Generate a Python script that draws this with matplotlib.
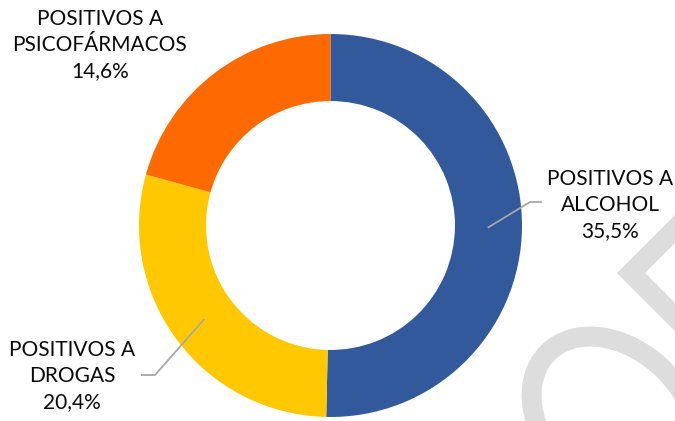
import numpy as np
import matplotlib
matplotlib.use("Agg")
import matplotlib.pyplot as plt
from matplotlib.patches import Ellipse

# Resultados positivos por tipo de sustancia (%)
categories = ["POSITIVOS A\nALCOHOL", "POSITIVOS A\nDROGAS", "POSITIVOS A\nPSICOFÁRMACOS"]
values = [35.5, 20.4, 14.6]
colors = ["#31599C", "#FFC800", "#FF6A00"]

W, H = 675, 421
fig = plt.figure(figsize=(W / 100, H / 100), dpi=100)
ax = fig.add_axes([0, 0, 1, 1])

# ring geometry in pixel units (y measured upwards)
cx, cy = 330.5, H - 225.5
r_out = 191.5
ring = 0.35 * r_out

# watermark shapes in the lower right corner
ax.plot([691, 631, 691], [H - 213, H - 273, H - 333], color="#DDDDDD",
        lw=14.4, solid_joinstyle="miter", zorder=0)
ax.add_patch(Ellipse((615, H - 420), 190, 140, angle=-45, fill=False,
                     ec="#DDDDDD", lw=14.4, zorder=0))

wedges, _ = ax.pie(values, colors=colors, startangle=90, counterclock=False,
                   center=(cx, cy), radius=r_out,
                   wedgeprops=dict(width=ring, edgecolor="none", linewidth=0))

label_pos = [(610, H - 205), (72, H - 376), (100, H - 45)]
leader_ends = [[(530, H - 202), (541, H - 202)],
               [(155, H - 375), (142, H - 375)],
               None]

for w, cat, val, (tx, ty), ends in zip(wedges, categories, values, label_pos, leader_ends):
    txt = f"{cat}\n{val:.1f}%".replace(".", ",")
    ax.text(tx, ty, txt, ha="center", va="center", fontsize=15, family="Lato",
            color="#0A0A0A", linespacing=1.4)
    if ends is None:
        continue
    mid = np.deg2rad((w.theta1 + w.theta2) / 2)
    rm = r_out - ring / 2
    x0, y0 = cx + rm * np.cos(mid), cy + rm * np.sin(mid)
    xs = [x0] + [p[0] for p in ends]
    ys = [y0] + [p[1] for p in ends]
    ax.plot(xs, ys, color="#A6A6A6", lw=1.3, zorder=3)

ax.set_xlim(0, W)
ax.set_ylim(0, H)
ax.set_aspect("equal")
ax.axis("off")

fig.savefig("out.png", dpi=100, facecolor="white")
